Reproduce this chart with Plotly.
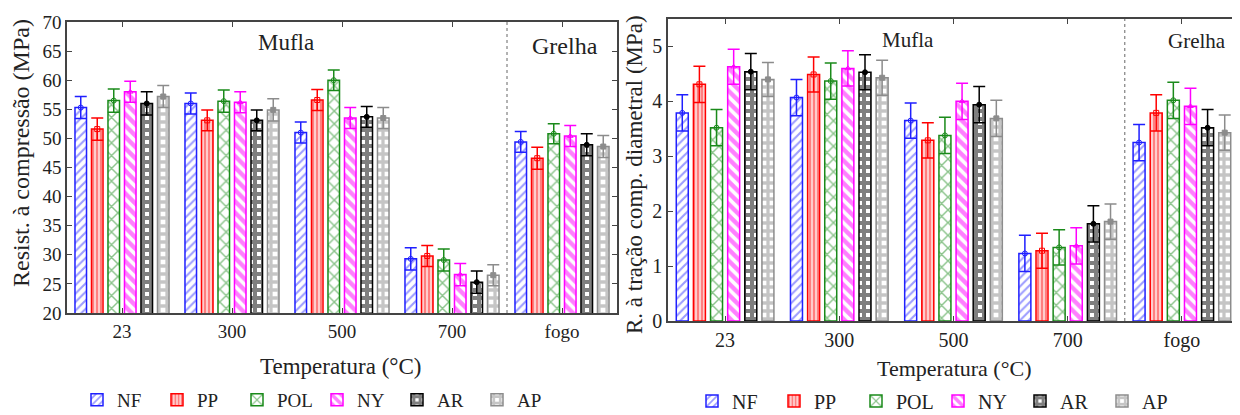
import plotly.graph_objects as go

categories = ["23", "300", "500", "700", "fogo"]
series = ["NF", "PP", "POL", "NY", "AR", "AP"]

# Resistência à compressão (MPa)
comp_NF = [55.3, 56.0, 51.0, 29.3, 49.4]
comp_PP = [51.6, 53.1, 56.6, 29.8, 46.6]
comp_POL = [56.5, 56.4, 60.0, 29.1, 50.8]
comp_NY = [58.0, 56.2, 53.5, 26.6, 50.4]
comp_AR = [56.0, 53.1, 53.7, 25.3, 48.9]
comp_AP = [57.2, 54.9, 53.5, 26.5, 48.6]
comp_err_NF = [1.9, 1.8, 1.8, 1.9, 1.8]
comp_err_PP = [1.9, 1.8, 1.8, 1.8, 1.9]
comp_err_POL = [2.0, 1.9, 1.75, 1.9, 1.7]
comp_err_NY = [1.8, 1.8, 1.8, 1.9, 1.8]
comp_err_AR = [2.0, 1.8, 1.8, 1.9, 1.9]
comp_err_AP = [1.9, 1.9, 1.8, 1.8, 1.9]

# Resistência à tração por compressão diametral (MPa)
trac_NF = [3.79, 4.07, 3.65, 1.23, 3.25]
trac_PP = [4.31, 4.49, 3.29, 1.28, 3.79]
trac_POL = [3.52, 4.37, 3.38, 1.34, 4.02]
trac_NY = [4.63, 4.60, 4.00, 1.37, 3.91]
trac_AR = [4.54, 4.53, 3.94, 1.77, 3.52]
trac_AP = [4.40, 4.43, 3.69, 1.81, 3.43]
trac_err_NF = [0.33, 0.33, 0.32, 0.33, 0.33]
trac_err_PP = [0.33, 0.32, 0.32, 0.32, 0.33]
trac_err_POL = [0.33, 0.33, 0.33, 0.32, 0.33]
trac_err_NY = [0.32, 0.32, 0.33, 0.33, 0.33]
trac_err_AR = [0.33, 0.32, 0.33, 0.33, 0.33]
trac_err_AP = [0.31, 0.32, 0.33, 0.32, 0.32]

comp_vals = [comp_NF, comp_PP, comp_POL, comp_NY, comp_AR, comp_AP]
comp_errs = [comp_err_NF, comp_err_PP, comp_err_POL, comp_err_NY, comp_err_AR, comp_err_AP]
trac_vals = [trac_NF, trac_PP, trac_POL, trac_NY, trac_AR, trac_AP]
trac_errs = [trac_err_NF, trac_err_PP, trac_err_POL, trac_err_NY, trac_err_AR, trac_err_AP]

colors = ["#1f1fff", "#ff0000", "#1a8a1a", "#ff00ff", "#000000", "#8c8c8c"]
mean_symbols = ["circle-open", "square-open", "circle-open", "triangle-up-open",
                "circle", "square"]
patterns = [
    dict(shape="/", fgcolor="#3a3aff", bgcolor="white", size=6, solidity=0.35),
    dict(shape="|", fgcolor="#ff0000", bgcolor="white", size=4, solidity=0.7),
    dict(shape="x", fgcolor="#1a8a1a", bgcolor="white", size=9, solidity=0.3),
    dict(shape="\\", fgcolor="#ff00ff", bgcolor="white", size=8, solidity=0.55),
    dict(shape="+", fgcolor="#000000", bgcolor="white", size=8, solidity=0.75),
    dict(shape="+", fgcolor="#8c8c8c", bgcolor="white", size=8, solidity=0.65),
]

FONT = "Liberation Serif, Times New Roman, DejaVu Serif, serif"
fig = go.Figure()

panels = [("x", "y", "legend", comp_vals, comp_errs),
          ("x2", "y2", "legend2", trac_vals, trac_errs)]
for xa, ya, lg, vals, errs in panels:
    for i, name in enumerate(series):
        fig.add_trace(go.Bar(
            x=categories, y=vals[i], name=name,
            xaxis=xa, yaxis=ya, legend=lg,
            offsetgroup=name, alignmentgroup=xa,
            marker=dict(color="white", pattern=patterns[i],
                        line=dict(color=colors[i], width=1.5)),
            error_y=dict(type="data", array=errs[i], color=colors[i],
                         thickness=1.5, width=6),
        ))
    for i, name in enumerate(series):
        fig.add_trace(go.Scatter(
            x=categories, y=vals[i], name=name, mode="markers",
            xaxis=xa, yaxis=ya, showlegend=False, hoverinfo="skip",
            offsetgroup=name, alignmentgroup=xa,
            marker=dict(symbol=mean_symbols[i], size=5, color=colors[i],
                        line=dict(color=colors[i], width=1)),
        ))

# page body has an 8px margin: figure is sized to fit the window
OFF = 8
W, H = 1240 - OFF, 415 - OFF


def px(x):
    return (x - OFF) / W


def py(y):
    return (H - (y - OFF)) / H


TXT = "#222"
axis_common = dict(showline=True, linecolor="#444", linewidth=1.5, mirror="allticks",
                   ticks="inside", ticklen=5, tickcolor="#444", showgrid=False,
                   zeroline=False, automargin=False)


def label(text, x, y, size, angle=0):
    return dict(text=text, xref="paper", yref="paper", x=px(x), y=py(y),
                xanchor="center", yanchor="middle", textangle=angle, showarrow=False,
                font=dict(family=FONT, size=size, color=TXT))


fig.update_layout(
    width=W, height=H, autosize=False,
    margin=dict(l=0, r=0, t=0, b=0, autoexpand=False),
    paper_bgcolor="white", plot_bgcolor="white",
    barmode="group", bargap=0.1, bargroupgap=0.3,
    scattermode="group", scattergap=0.1,
    font=dict(family=FONT, color=TXT),
    xaxis=dict(domain=[px(67), px(617)], anchor="y", range=[-0.5, 4.5],
               tickfont=dict(family=FONT, size=19, color=TXT), **axis_common),
    yaxis=dict(domain=[py(313), py(22)], anchor="x", range=[20, 70], dtick=5,
               tickfont=dict(family=FONT, size=19, color=TXT), **axis_common),
    xaxis2=dict(domain=[px(668), px(1239)], anchor="y2", range=[-0.5, 4.5],
                tickfont=dict(family=FONT, size=20, color=TXT), **axis_common),
    yaxis2=dict(domain=[py(321), py(19)], anchor="x2", range=[0, 5.5], dtick=1,
                tickfont=dict(family=FONT, size=20, color=TXT), **axis_common),
    legend=dict(orientation="h", x=px(77), xanchor="left", y=py(400), yanchor="middle",
                entrywidth=35, font=dict(family=FONT, size=19, color=TXT),
                bgcolor="rgba(0,0,0,0)"),
    legend2=dict(orientation="h", x=px(692), xanchor="left", y=py(401), yanchor="middle",
                 entrywidth=37, font=dict(family=FONT, size=20, color=TXT),
                 bgcolor="rgba(0,0,0,0)"),
    shapes=[
        dict(type="line", xref="x", yref="paper", x0=3.5, x1=3.5,
             y0=py(313), y1=py(22), line=dict(color="#666", width=1, dash="dot")),
        dict(type="line", xref="x2", yref="paper", x0=3.5, x1=3.5,
             y0=py(321), y1=py(19), line=dict(color="#666", width=1, dash="dot")),
    ],
    annotations=[
        label("Resist. à compressão (MPa)", 21, 153, 24, -90),
        label("R. à tração comp. diametral (MPa)", 634, 175, 23, -90),
        label("Temperatura (°C)", 340, 366, 23),
        label("Temperatura (°C)", 954, 368, 22),
        label("Mufla", 286, 43, 23),
        label("Grelha", 565, 46, 24),
        label("Mufla", 908, 40, 21),
        label("Grelha", 1197, 41, 21),
    ],
)

fig.write_html("out.html")
